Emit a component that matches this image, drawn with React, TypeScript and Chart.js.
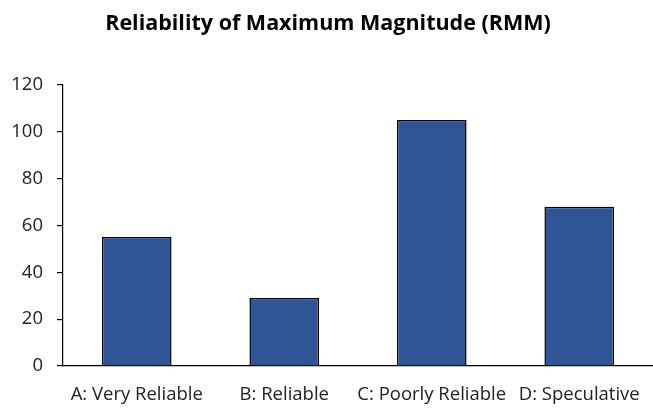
import React, { useEffect, useRef } from "react";
import { Chart, registerables } from "chart.js";

Chart.register(...registerables);

const TITLE = "Reliability of Maximum Magnitude (RMM)";
const categories = ["A: Very Reliable", "B: Reliable", "C: Poorly Reliable", "D: Speculative"];
const counts = [55, 29, 105, 68];
const yMin = 0;
const yMax = 120;
const yStep = 20;

export default function App() {
  const ref = useRef<HTMLCanvasElement | null>(null);
  useEffect(() => {
    document.body.style.margin = "0";
    const ctx = ref.current!;
    const chart = new Chart(ctx, {
      type: "bar",
      data: {
        labels: categories,
        datasets: [
          {
            data: counts,
            backgroundColor: "#2F5597",
            borderColor: "#000000",
            borderWidth: 1.5,
            categoryPercentage: 1,
            barPercentage: 0.472,
          },
        ],
      },
      options: {
        animation: false,
        responsive: false,
        maintainAspectRatio: false,
        layout: { padding: { left: 0, right: -3, top: 0, bottom: 0 } },
        plugins: {
          legend: { display: false },
          tooltip: { enabled: false },
          title: {
            display: true,
            text: TITLE,
            color: "#000000",
            font: { family: "Open Sans", size: 21.5, weight: "bold" },
            padding: { top: 11, bottom: 48 },
          },
        },
        scales: {
          x: {
            grid: { display: false },
            border: { display: true, color: "#000000", width: 1.2 },
            ticks: {
              color: "#222222",
              font: { family: "Open Sans", size: 18.5 },
              padding: 10,
              maxRotation: 0,
              autoSkip: false,
            },
            afterFit: (scale: any) => {
              scale.height = 42;
            },
          },
          y: {
            min: yMin,
            max: yMax,
            ticks: {
              stepSize: yStep,
              color: "#222222",
              font: { family: "Open Sans", size: 18.5 },
              padding: 14,
            },
            grid: {
              display: true,
              drawOnChartArea: false,
              drawTicks: true,
              tickLength: 6,
              color: "#000000",
              lineWidth: 1.2,
            },
            border: { display: true, color: "#000000", width: 1.2 },
            afterFit: (scale: any) => {
              scale.width = 63;
            },
          },
        },
      },
    });
    return () => chart.destroy();
  }, []);
  return <canvas ref={ref} width={653} height={408} style={{ display: "block" }} />;
}
